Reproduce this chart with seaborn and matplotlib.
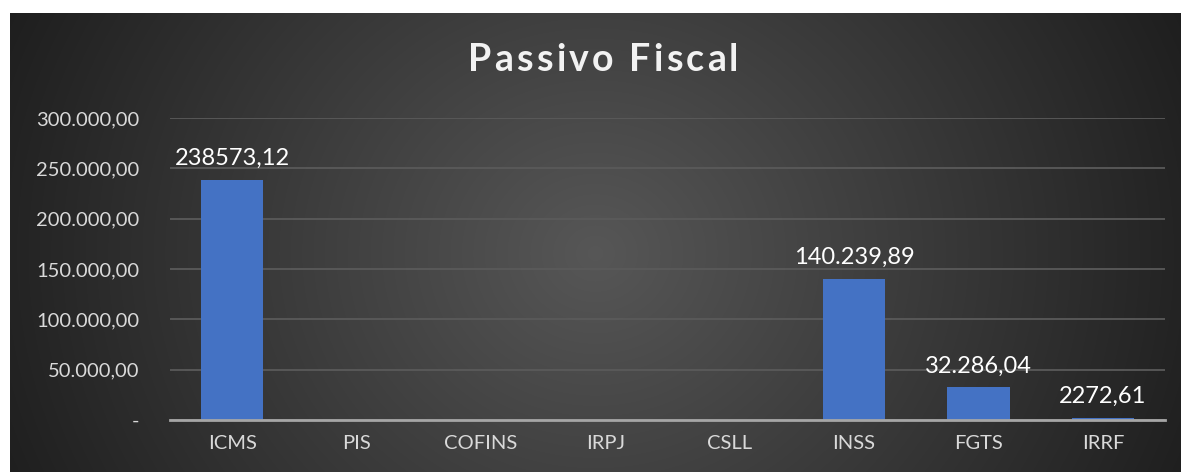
import numpy as np
import pandas as pd
import matplotlib
matplotlib.use('Agg')
import matplotlib.pyplot as plt
import seaborn as sns
from matplotlib.ticker import FuncFormatter

categorias = ['ICMS', 'PIS', 'COFINS', 'IRPJ', 'CSLL', 'INSS', 'FGTS', 'IRRF']
valores = [238573.12, 0, 0, 0, 0, 140239.89, 32286.04, 2272.61]
rotulos = ['238573,12', '', '', '', '', '140.239,89', '32.286,04', '2272,61']
titulo = 'Passivo Fiscal'

df = pd.DataFrame({'tributo': categorias, 'valor': valores})

sns.set_style('dark')
plt.rcParams['font.family'] = ['Lato', 'DejaVu Sans']

W, H = 1181, 472
fig = plt.figure(figsize=(W / 100, H / 100), dpi=100)
fig.patch.set_facecolor('white')

# fundo com gradiente radial
bg = fig.add_axes([10 / W, 0, (W - 10) / W, (H - 13) / H], zorder=0)
yy, xx = np.mgrid[0:459, 0:1171]
cx, cy = 585, 240
r = np.sqrt((xx - cx) ** 2 + ((yy - cy) * 1.1) ** 2) / 640
shade = 0.34 - 0.22 * np.clip(r, 0, 1.1)
img = np.dstack([shade, shade, shade])
bg.imshow(img, aspect='auto', extent=[0, 1, 0, 1])
bg.axis('off')

ax = fig.add_axes([170 / W, 52 / H, 995 / W, 302 / H], zorder=1)
ax.patch.set_alpha(0)
sns.barplot(data=df, x='tributo', y='valor', color='#4472C4', width=0.5,
            saturation=1, edgecolor='none', linewidth=0, ax=ax)

ax.set_ylim(0, 300000)
ax.set_xlim(-0.5, 7.5)
ax.set_yticks(np.arange(0, 300001, 50000))


def fmt(v, pos):
    if v == 0:
        return '-'
    s = f'{v:,.2f}'
    return s.replace(',', 'X').replace('.', ',').replace('X', '.')


ax.yaxis.set_major_formatter(FuncFormatter(fmt))
ax.grid(axis='y', color='#5a5a5a', linewidth=1.3)
ax.grid(axis='x', visible=False)
ax.set_axisbelow(True)
for s in ['top', 'right', 'left']:
    ax.spines[s].set_visible(False)
ax.spines['bottom'].set_color('#a6a6a6')
ax.spines['bottom'].set_linewidth(2)
ax.tick_params(axis='both', length=0, colors='#d9d9d9', labelsize=14.5)
ax.tick_params(axis='y', pad=22)
ax.tick_params(axis='x', pad=11)
ax.set_xlabel('')
ax.set_ylabel('')

ax.bar_label(ax.containers[0], labels=rotulos, padding=8, color='white',
             fontsize=17)

# titulo com espacamento entre letras
renderer = fig.canvas.get_renderer()
espaco = 3.2
larguras = []
for ch in titulo:
    t = fig.text(0, 0, ch if ch != ' ' else 'i', fontsize=27, fontweight='bold')
    larguras.append(t.get_window_extent(renderer).width)
    t.remove()
total = sum(larguras) + espaco * (len(titulo) - 1)
x0 = 603 - total / 2
for ch, w in zip(titulo, larguras):
    if ch != ' ':
        fig.text(x0 / W, 1 - 60 / H, ch, ha='left', va='center',
                 color='#f2f2f2', fontsize=27, fontweight='bold')
    x0 += w + espaco

fig.savefig('out.png', dpi=100)
